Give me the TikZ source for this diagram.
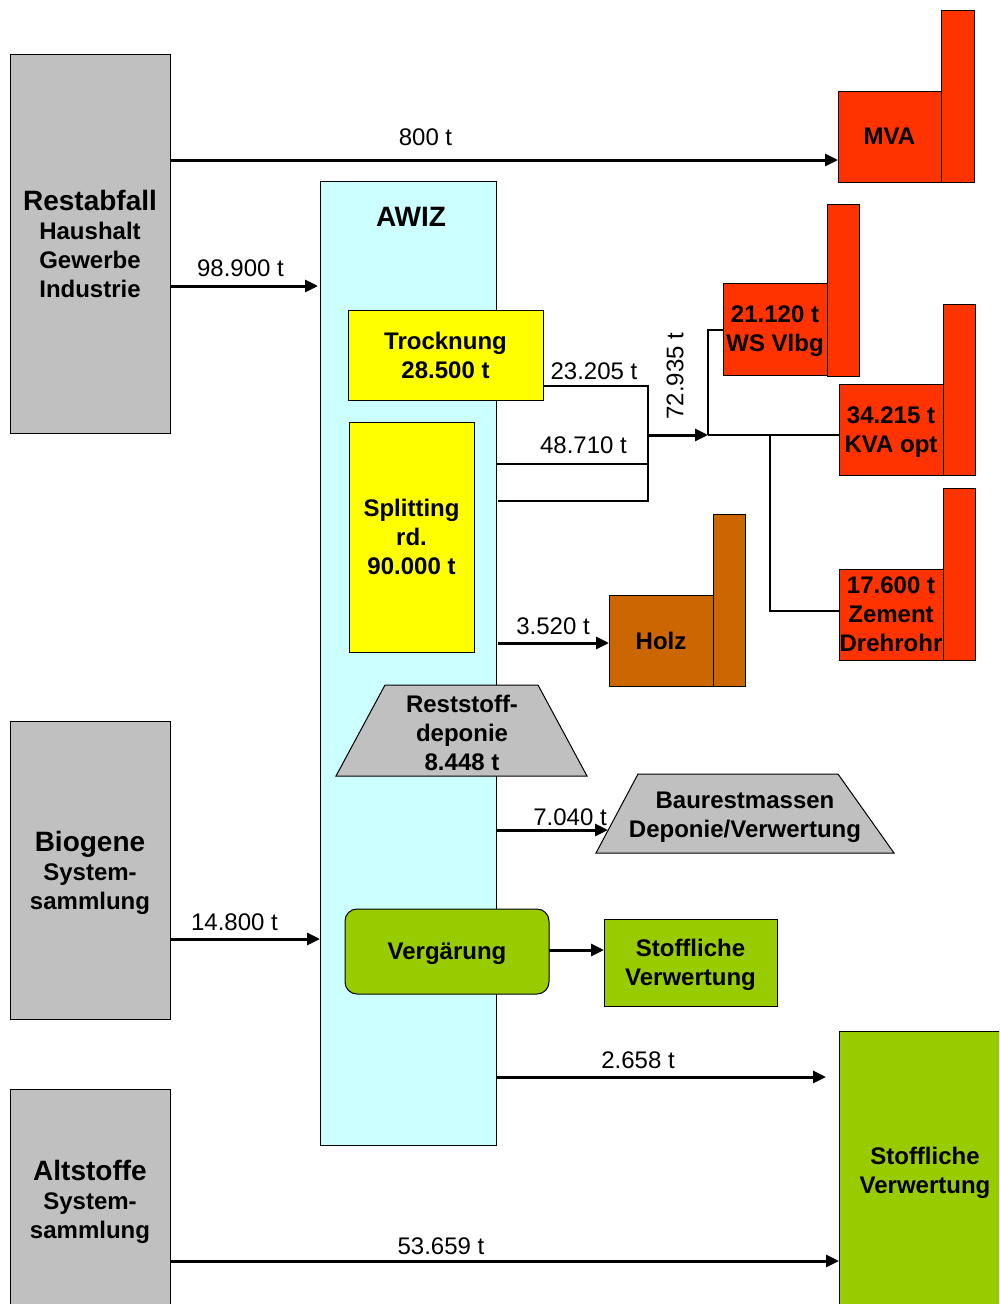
\documentclass[tikz,border=0pt]{standalone}
\usepackage{fontspec}
\setmainfont{Liberation Sans}
\usetikzlibrary{arrows.meta}
\definecolor{cgray}{HTML}{C0C0C0}
\definecolor{ccyan}{HTML}{CCFFFF}
\definecolor{cyellow}{HTML}{FFFF00}
\definecolor{cred}{HTML}{FF3300}
\definecolor{cbrown}{HTML}{CC6600}
\definecolor{cgreen}{HTML}{99CC00}
\begin{document}
\begin{tikzpicture}[x=1pt,y=-1pt,
  box/.style={draw=black, line width=1pt, inner sep=0pt, outer sep=0pt, align=center, text depth=0pt, font=\bfseries\fontsize{24}{29}\selectfont},
  graybox/.style={box, fill=cgray},
  cyanbox/.style={box, fill=ccyan},
  ybox/.style={box, fill=cyellow},
  redbox/.style={box, fill=cred},
  brownbox/.style={box, fill=cbrown},
  greenbox/.style={box, fill=cgreen},
  trapbox/.style={draw=black, line width=1pt, fill=cgray},
  txt/.style={inner sep=0pt, align=center, text depth=0pt, font=\bfseries\fontsize{24}{29}\selectfont},
  lbl/.style={inner sep=0pt, font=\fontsize{24}{29}\selectfont},
  arr/.style={line width=3pt, -{Triangle[length=13pt,width=12pt]}},
  wire/.style={line width=2pt},
]
\useasboundingbox (0,0) rectangle (999,1304);
\clip (0,0) rectangle (999,1304);

% sources
\node[graybox, minimum width=160pt, minimum height=379pt] (rest) at (90,243.5)
  {{\fontsize{28}{31}\selectfont Restabfall}\\Haushalt\\Gewerbe\\Industrie};
\node[graybox, minimum width=160pt, minimum height=298pt] (bio) at (90,870)
  {{\fontsize{28}{31}\selectfont Biogene}\\System-\\sammlung};
\node[graybox, minimum width=160pt, minimum height=220pt] (alt) at (90,1199)
  {{\fontsize{28}{31}\selectfont Altstoffe}\\System-\\sammlung};

% AWIZ
\node[cyanbox, minimum width=176pt, minimum height=964pt] (awiz) at (408,663) {};
\node[txt, font=\bfseries\fontsize{28}{31}\selectfont] (awizt) at (411,217) {AWIZ};
\node[ybox, minimum width=195pt, minimum height=90pt] (trock) at (445.5,355) {Trocknung\\28.500 t};
\node[ybox, minimum width=125pt, minimum height=230pt] (split) at (411.5,537) {Splitting\\rd.\\90.000 t};
\draw[trapbox] (385,685) -- (538,685) -- (587,776) -- (336,776) -- cycle;
\node[txt] (rsd) at (462,733) {Reststoff-\\deponie\\8.448 t};
\node[greenbox, rounded corners=12pt, minimum width=204pt, minimum height=85pt] (verg) at (447,951.5) {Verg\"arung};

% sinks
\node[greenbox, minimum width=173pt, minimum height=87pt] (stoff1) at (690.5,962.5) {Stoffliche\\Verwertung};
\node[greenbox, minimum width=172pt, minimum height=278pt] (stoff2) at (925,1170) {Stoffliche\\Verwertung};
\draw[trapbox] (638,774) -- (838,774) -- (894,853) -- (596,853) -- cycle;
\node[txt] (baur) at (745,814.5) {Baurestmassen\\Deponie/Verwertung};
\coordinate (baurL) at (608,830);

% factories
\node[redbox, minimum width=103pt, minimum height=91pt] (mva) at (889.5,136.5) {MVA};
\node[redbox, minimum width=33pt, minimum height=172pt] (mvac) at (957.5,96) {};
\node[redbox, minimum width=104pt, minimum height=92pt] (ws) at (775,329) {21.120 t\\WS Vlbg};
\node[redbox, minimum width=32pt, minimum height=172pt] (wsc) at (843,290) {};
\node[redbox, minimum width=104pt, minimum height=91pt] (kva) at (891,429.5) {34.215 t\\KVA opt};
\node[redbox, minimum width=32pt, minimum height=171pt] (kvac) at (959,389.5) {};
\node[redbox, minimum width=104pt, minimum height=91pt] (zem) at (891,614.5) {17.600 t\\Zement\\Drehrohr};
\node[redbox, minimum width=32pt, minimum height=172pt] (zemc) at (959,574) {};
\node[brownbox, minimum width=104pt, minimum height=91pt] (holz) at (661,640.5) {Holz};
\node[brownbox, minimum width=32pt, minimum height=172pt] (holzc) at (729,600) {};

% connectors
\draw[arr] (rest.east |- 0,160) -- (mva.west |- 0,160);
\draw[arr] (rest.east |- 0,286) -- ([xshift=-2pt]awiz.west |- 0,286);
\draw[arr] (bio.east |- 0,939) -- (awiz.west |- 0,939);
\draw[arr] (alt.east |- 0,1261) -- (stoff2.west |- 0,1261);
\draw[arr, shorten >=13pt] (awiz.east |- 0,1077) -- (stoff2.west |- 0,1077);
\draw[arr] ([xshift=2pt]awiz.east |- 0,643) -- (holz.west |- 0,643);
\draw[arr] (awiz.east |- 0,830) -- (baurL);
\draw[arr] (verg.east |- 0,950) -- (stoff1.west |- 0,950);

\coordinate (j1) at (648,435);
\coordinate (j2) at (708,435);
\coordinate (j3) at (770,435);
\draw[wire] (trock.east |- 0,386) -| (j1 |- 0,501) -- ([xshift=2pt]awiz.east |- 0,501);
\draw[wire] (awiz.east |- 0,464) -- (j1 |- 0,464);
\draw[arr] (j1) -- (j2);
\draw[wire] (j2) -- (kva.west |- j2);
\draw[wire] (j2) |- (ws.west |- 0,330);
\draw[wire] (j3) |- (zem.west |- 0,611);

% labels
\node[lbl] (l800) at (425.5,137) {800 t};
\node[lbl] (l989) at (240.5,268) {98.900 t};
\node[lbl] (l148) at (234.5,922) {14.800 t};
\node[lbl] (l536) at (441,1246) {53.659 t};
\node[lbl] (l265) at (638,1060) {2.658 t};
\node[lbl] (l352) at (553,626) {3.520 t};
\node[lbl] (l704) at (570,817) {7.040 t};
\node[lbl] (l232) at (594,371) {23.205 t};
\node[lbl] (l487) at (583.5,445) {48.710 t};
\node[lbl, rotate=90] (l729) at (675,376) {72.935 t};
\end{tikzpicture}
\end{document}
